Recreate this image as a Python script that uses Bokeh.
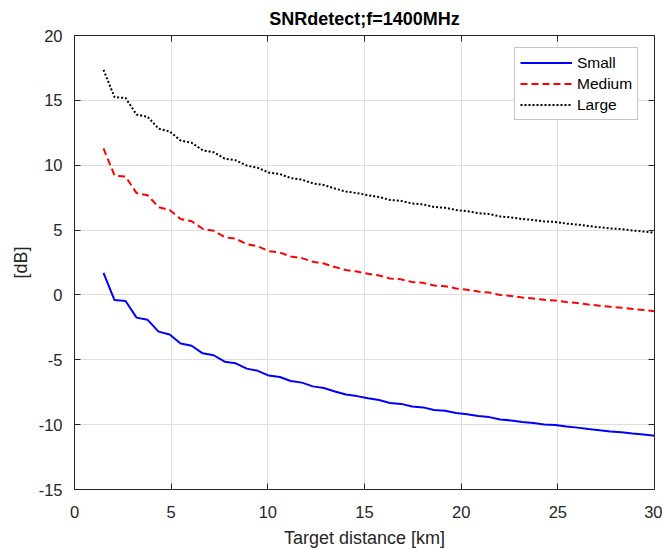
from bokeh.plotting import figure
from bokeh.models import (LinearAxis, Legend, LegendItem, SingleIntervalTicker, Range1d,
                          CustomLabelingPolicy)
from bokeh.embed import file_html
from bokeh.resources import INLINE

distance_km = [1.50, 2.07, 2.64, 3.21, 3.78, 4.35, 4.92, 5.49, 6.06, 6.63,
               7.20, 7.77, 8.34, 8.91, 9.48, 10.05, 10.62, 11.19, 11.76, 12.33,
               12.90, 13.47, 14.04, 14.61, 15.18, 15.75, 16.32, 16.89, 17.46, 18.03,
               18.60, 19.17, 19.74, 20.31, 20.88, 21.45, 22.02, 22.59, 23.16, 23.73,
               24.30, 24.87, 25.44, 26.01, 26.58, 27.15, 27.72, 28.29, 28.86, 29.43,
               30.00]

small = [1.7, -0.4, -0.47, -1.75, -1.92, -2.83, -3.05, -3.75, -3.92, -4.5,
         -4.65, -5.15, -5.27, -5.68, -5.85, -6.22, -6.33, -6.64, -6.76, -7.05,
         -7.18, -7.45, -7.68, -7.8, -7.97, -8.1, -8.33, -8.4, -8.6, -8.67,
         -8.87, -8.93, -9.1, -9.2, -9.34, -9.42, -9.6, -9.68, -9.8, -9.87,
         -9.98, -10.02, -10.15, -10.23, -10.34, -10.43, -10.52, -10.58, -10.68, -10.76,
         -10.86]

medium = [11.3, 9.2, 9.13, 7.85, 7.68, 6.77, 6.55, 5.85, 5.68, 5.1,
          4.95, 4.45, 4.33, 3.92, 3.75, 3.38, 3.27, 2.96, 2.84, 2.55,
          2.42, 2.15, 1.92, 1.8, 1.63, 1.5, 1.27, 1.2, 1.0, 0.93,
          0.73, 0.67, 0.5, 0.4, 0.26, 0.18, 0.0, -0.08, -0.2, -0.27,
          -0.38, -0.42, -0.55, -0.63, -0.74, -0.83, -0.92, -0.98, -1.08, -1.16,
          -1.26]

large = [17.35, 15.25, 15.18, 13.9, 13.73, 12.82, 12.6, 11.9, 11.73, 11.15,
         11.0, 10.5, 10.38, 9.97, 9.8, 9.43, 9.32, 9.01, 8.89, 8.6,
         8.47, 8.2, 7.97, 7.85, 7.68, 7.55, 7.32, 7.25, 7.05, 6.98,
         6.78, 6.72, 6.55, 6.45, 6.31, 6.23, 6.05, 5.97, 5.85, 5.78,
         5.67, 5.63, 5.5, 5.42, 5.31, 5.22, 5.13, 5.07, 4.97, 4.89,
         4.79]

series_names = ["Small", "Medium", "Large"]
y_ticks = [-15, -10, -5, 0, 5, 10, 15, 20]
title_text = "SNRdetect;f=1400MHz"
x_label = "Target distance [km]"
y_label = "[dB]"

FONT = "Liberation Sans"
AX = "#262626"

p = figure(frame_width=580, frame_height=454, output_backend="svg", toolbar_location=None,
           x_range=Range1d(0, 30), y_range=Range1d(-15, 20),
           min_border_left=74, min_border_right=8, min_border_top=35, min_border_bottom=50)

p.title.text = title_text
p.title.align = "center"
p.title.text_font = FONT
p.title.text_font_size = "18px"
p.title.text_font_style = "bold"
p.title.text_color = "#000000"
p.title.standoff = 6

p.outline_line_color = None
p.background_fill_color = "white"
p.border_fill_color = "white"

for ax in (p.xaxis[0], p.yaxis[0]):
    ax.axis_line_color = AX
    ax.major_tick_line_color = AX
    ax.major_tick_in = 6
    ax.major_tick_out = 0
    ax.minor_tick_line_color = None
    ax.major_label_text_font = FONT
    ax.major_label_text_font_size = "16.5px"
    ax.major_label_text_color = AX
    ax.axis_label_text_font = FONT
    ax.axis_label_text_font_size = "18px"
    ax.axis_label_text_font_style = "normal"
    ax.axis_label_text_color = AX

p.xaxis[0].ticker = SingleIntervalTicker(interval=5)
p.yaxis[0].ticker = SingleIntervalTicker(interval=5)
p.yaxis[0].major_label_overrides = {t: str(t) for t in y_ticks}
p.xaxis[0].axis_label = x_label
p.yaxis[0].axis_label = y_label
p.xaxis[0].major_label_standoff = 12
p.yaxis[0].major_label_standoff = 8
p.xaxis[0].axis_label_standoff = 7
p.yaxis[0].axis_label_standoff = 5

no_labels = CustomLabelingPolicy(code="for (let i = 0; i < indices.size; i++) { indices.unset(i) } return indices")

for loc in ("above", "right"):
    a = LinearAxis(ticker=SingleIntervalTicker(interval=5))
    a.axis_line_color = AX
    a.major_tick_line_color = AX
    a.major_tick_in = 6
    a.major_tick_out = 0
    a.minor_tick_line_color = None
    a.major_label_policy = no_labels
    a.major_label_text_font_size = "0px"
    a.major_label_standoff = 0
    p.add_layout(a, loc)

p.xgrid.grid_line_color = "#dedede"
p.ygrid.grid_line_color = "#dedede"
p.xgrid.ticker = SingleIntervalTicker(interval=5)
p.ygrid.ticker = SingleIntervalTicker(interval=5)

r1 = p.line(distance_km, small, line_color="#0000ff", line_width=2)
r2 = p.line(distance_km, medium, line_color="#ff0000", line_width=2, line_dash="7 4")
r3 = p.line(distance_km, large, line_color="#000000", line_width=2, line_dash="2 2")

legend = Legend(items=[LegendItem(label=series_names[0], renderers=[r1]),
                       LegendItem(label=series_names[1], renderers=[r2]),
                       LegendItem(label=series_names[2], renderers=[r3])],
                location=(440, 369))
legend.label_text_font = FONT
legend.label_text_font_size = "15.5px"
legend.label_text_color = "#000000"
legend.glyph_width = 52
legend.glyph_height = 19
legend.label_height = 19
legend.spacing = 2
legend.padding = 5
legend.margin = 0
legend.label_standoff = 5
legend.border_line_color = "#8c8c8c"
legend.border_line_width = 1
legend.background_fill_color = "white"
legend.background_fill_alpha = 1
p.add_layout(legend, "center")

open("out.html", "w").write(file_html(p, INLINE))
